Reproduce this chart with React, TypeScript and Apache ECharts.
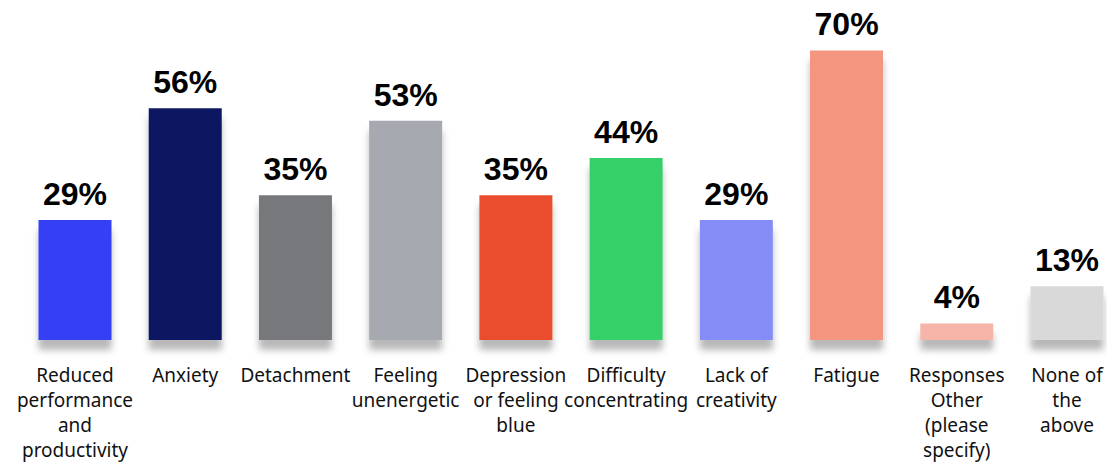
import React, { useEffect, useRef } from "react";
import * as echarts from "echarts";

const categories = [
  "Reduced\nperformance\nand\nproductivity",
  "Anxiety",
  "Detachment",
  "Feeling\nunenergetic",
  "Depression\nor feeling\nblue",
  "Difficulty\nconcentrating",
  "Lack of\ncreativity",
  "Fatigue",
  "Responses\nOther\n(please\nspecify)",
  "None of\nthe\nabove",
];

const values = [29, 56, 35, 53, 35, 44, 29, 70, 4, 13];

const barColors = [
  "#3540F4",
  "#0F1760",
  "#77787C",
  "#A6A9AF",
  "#EA4E2E",
  "#35D068",
  "#858CF5",
  "#F4957F",
  "#F6B5A8",
  "#D9D9D9",
];

export default function App() {
  const ref = useRef<HTMLDivElement>(null);

  useEffect(() => {
    if (!ref.current) return;
    const chart = echarts.init(ref.current, null, { renderer: "svg" });
    chart.setOption({
      animation: false,
      backgroundColor: "#ffffff",
      grid: { left: 75, right: 40, top: 9, bottom: 124, containLabel: false },
      xAxis: {
        type: "category",
        data: categories,
        boundaryGap: false,
        axisLine: { show: false },
        axisTick: { show: false },
        splitLine: { show: false },
        axisLabel: {
          interval: 0,
          margin: 22,
          color: "#111111",
          fontSize: 19,
          lineHeight: 25,
          fontFamily: "Noto Sans",
          align: "center",
        },
      },
      yAxis: {
        type: "value",
        min: 0,
        max: 80,
        show: false,
        splitLine: { show: false },
      },
      series: [
        {
          type: "bar",
          barWidth: 73,
          data: values.map((v, i) => ({
            value: v,
            itemStyle: { color: barColors[i] },
          })),
          itemStyle: {
            shadowColor: "rgba(0,0,0,0.28)",
            shadowBlur: 7,
            shadowOffsetY: 10,
          },
          label: {
            show: true,
            position: "top",
            distance: 10,
            formatter: "{c}%",
            color: "#000000",
            fontSize: 32,
            fontWeight: "bold",
            fontFamily: "Liberation Sans, Arial, sans-serif",
          },
        },
      ],
    });
    return () => chart.dispose();
  }, []);

  return (
    <div
      ref={ref}
      style={{ position: "absolute", left: 0, top: 0, width: 1107, height: 464 }}
    />
  );
}
